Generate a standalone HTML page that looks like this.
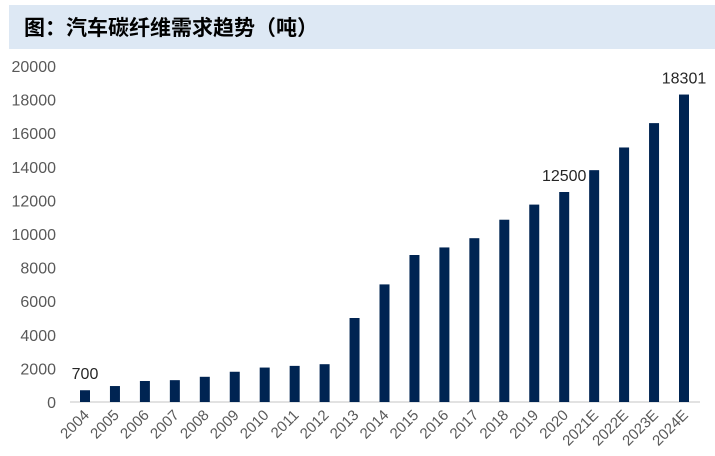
<!DOCTYPE html>
<html><head><meta charset="utf-8"><style>
body{margin:0;background:#fff;width:715px;height:456px;overflow:hidden;font-family:"Liberation Sans","Noto Sans CJK SC",sans-serif}
#title{position:absolute;left:9px;top:5px;width:706px;height:44px;background:#dde8f4;font-family:"Noto Sans CJK SC",sans-serif;font-weight:bold;font-size:21px;line-height:44px;padding-left:15px;box-sizing:border-box;color:#000}
svg{position:absolute;left:0;top:0}
</style></head><body>
<div id="title">图：汽车碳纤维需求趋势（吨）</div>
<svg id="chart" width="715" height="456"></svg>
<script>
const categories=["2004","2005","2006","2007","2008","2009","2010","2011","2012","2013","2014","2015","2016","2017","2018","2019","2020","2021E","2022E","2023E","2024E"];
const values=[700,950,1250,1300,1500,1800,2050,2150,2250,5000,7000,8750,9200,9750,10850,11750,12500,13800,15150,16600,18301];
const yTicks=[0,2000,4000,6000,8000,10000,12000,14000,16000,18000,20000];
const labeledIdx=[0,16,20];
const labelText=["700","12500","18301"];
const NS="http://www.w3.org/2000/svg";
const svg=document.getElementById('chart');
const y0=402,yTop=66,yMax=20000;
const y=v=>y0-(v/yMax)*(y0-yTop);
const x=i=>85+i*29.95;
function mk(t,a){const e=document.createElementNS(NS,t);for(const k in a)e.setAttribute(k,a[k]);svg.appendChild(e);return e;}
yTicks.forEach(v=>{
 const t=mk('text',{x:56,y:y(v)+6,'text-anchor':'end','font-size':16,fill:'#595959'});
 t.textContent=v;
 
 
});
const ax=mk('line',{x1:70,x2:700,y1:y0,y2:y0,stroke:'#d9d9d9','stroke-width':1.5});


values.forEach((v,i)=>{
 const r=mk('rect',{x:x(i)-5,y:y(v),width:10,height:y0-y(v),fill:'#002452'});
 
 
 const t=mk('text',{x:x(i)+5,y:y0+14,'text-anchor':'end','font-size':15,fill:'#595959',transform:`rotate(-45 ${x(i)+5} ${y0+14})`});
 t.textContent=categories[i];
 
 
});
labeledIdx.forEach((i,k)=>{
 const t=mk('text',{x:x(i),y:y(values[i])-11,'text-anchor':'middle','font-size':16,fill:'#262626'});
 t.textContent=labelText[k];
 
 
});
</script>
</body></html>
